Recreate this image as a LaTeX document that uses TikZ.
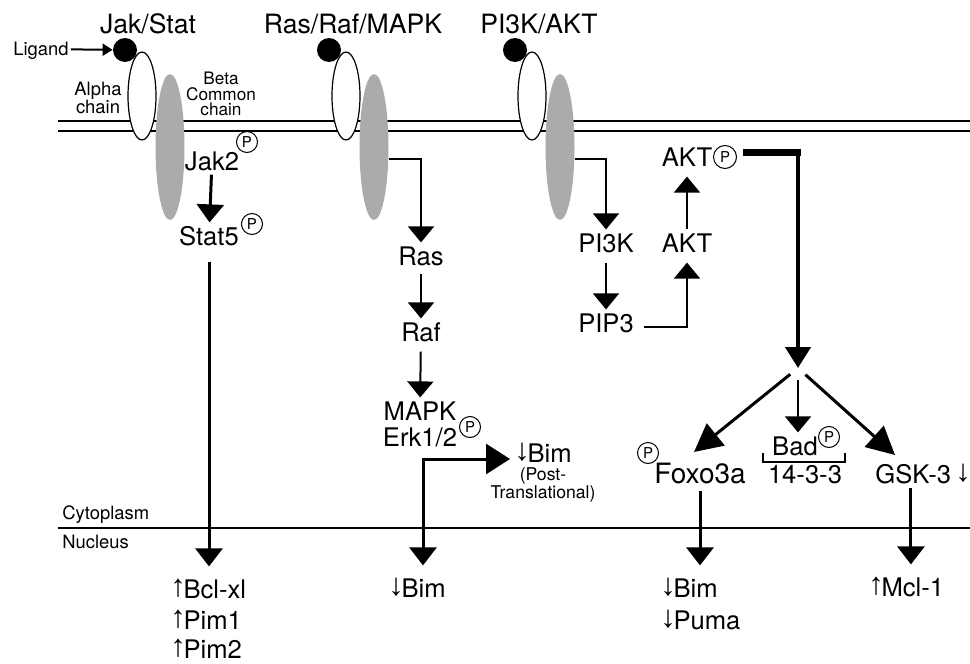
\documentclass[tikz,border=0pt]{standalone}
\usepackage{fontspec}
\setmainfont{TeX Gyre Heros}
\newfontfamily\arrowfont{Liberation Sans}
\usetikzlibrary{arrows.meta,shapes.geometric}
\newcommand{\UpArr}{{\arrowfont\fontsize{15.5}{16}\selectfont\raisebox{0.8pt}{↑}}\kern-1.2pt}
\newcommand{\DnArr}{{\arrowfont\fontsize{15.5}{16}\selectfont\raisebox{0.8pt}{↓}}\kern-1.2pt}

\begin{document}
\begin{tikzpicture}[x=0.5pt,y=-0.5pt,
  lbl/.style={font=\fontsize{12.8}{14}\selectfont,inner sep=2pt,text height=9.2pt,text depth=0pt},
  gene/.style={lbl,inner ysep=6.5pt,anchor=west},
  ttl/.style={font=\fontsize{13.3}{15}\selectfont,inner sep=0pt,text height=9.6pt,text depth=0pt},
  small/.style={font=\fontsize{9.2}{9}\selectfont,inner sep=1pt,text height=6.6pt,text depth=0pt},
  note/.style={font=\fontsize{9.2}{9}\selectfont,inner sep=0pt,align=center},
  phos/.style={circle,draw,line width=0.5pt,inner sep=0pt,minimum size=10.5pt,font=\fontsize{7.5}{7.5}\selectfont},
  link/.style={line width=1pt,-{Triangle[width=13pt,length=8pt]}},
  main/.style={line width=1.5pt,-{Triangle[width=13.5pt,length=9pt]}},
  diag/.style={line width=1.5pt,-{Triangle[width=14pt,length=14pt]}},
  alphachain/.style={ellipse,draw,fill=white,line width=0.6pt,minimum width=14pt,minimum height=44pt,inner sep=0pt},
  betachain/.style={ellipse,fill=black!33,minimum width=14.5pt,minimum height=73pt,inner sep=0pt},
  ligandball/.style={circle,fill=black,minimum size=12pt,inner sep=0pt}]
  \useasboundingbox (0,0) rectangle (970,664);
  \draw[line width=1pt] (58,121) -- (970,121);
  \draw[line width=1pt] (58,131) -- (970,131);
  \draw[line width=1pt] (58,528) -- (970,528);
  \foreach \dx/\n in {0/1,204/2,390/3}{
    \node[alphachain] (alpha\n) at (142+\dx,96) {};
    \node[betachain] (beta\n) at (170+\dx,147) {};
    \node[ligandball] (lig\n) at (125+\dx,50) {};
  }
  \node[ttl] (jakstat) at (148,24) {Jak/Stat};
  \node[ttl] (rasraf) at (353,24) {Ras/Raf/MAPK};
  \node[ttl] (pikakt) at (539,24) {PI3K/AKT};
  \node[small,anchor=west] (ligand) at (11,49) {Ligand};
  \draw[line width=1pt,-{Triangle[width=6pt,length=5pt]}] (ligand) -- (lig1);
  \node[note] (alphatxt) at (98,98) {Alpha\\chain};
  \node[note,font=\fontsize{8.6}{7.6}\selectfont] (betatxt) at (221,94) {Beta\\Common\\chain};
  \node[small,anchor=west] (cyto) at (60,513) {Cytoplasm};
  \node[small,anchor=west] (nucleus) at (60,542) {Nucleus};
  % Jak/Stat
  \node[lbl] (jak2) at (212,161) {Jak2};
  \node[phos] (jak2p) at (247,142) {P};
  \node[lbl] (stat5) at (209,236) {Stat5};
  \node[phos] (stat5p) at (252,224) {P};
  \node[gene] (bclxl) at (166,589) {\UpArr Bcl-xl};
  \node[gene] (pim1) at (166,620) {\UpArr Pim1};
  \node[gene] (pim2) at (166,649) {\UpArr Pim2};
  \draw[main] (jak2) -- (stat5);
  \draw[main,shorten <=6pt] (stat5) -- (stat5 |- bclxl.north);
  % Ras/Raf/MAPK
  \node[lbl] (ras) at (421,256) {Ras};
  \node[lbl] (raf) at (421,332) {Raf};
  \node[lbl] (mapk) at (420,411) {MAPK};
  \node[lbl] (erk) at (420,437) {Erk1/2};
  \node[phos] (erkp) at (470,427) {P};
  \node[lbl] (bimpost) at (543,453) {\DnArr Bim};
  \node[note,font=\fontsize{8.8}{6.8}\selectfont] (posttr) at (543,485) {(Post-\\Translational)};
  \node[gene] (bimnuc) at (384,588) {\DnArr Bim};
  \coordinate (erkfork) at (423,459);
  \draw[link] ([yshift=-6pt]beta2.east) -| (ras);
  \draw[link,shorten <=2pt] (ras) -- (raf);
  \draw[link,shorten <=3pt] (raf) -- (mapk);
  \draw[line width=1.5pt,{Triangle[width=13.5pt,length=9pt]}-{Triangle[width=15pt,length=12pt]}]
    (erkfork |- bimnuc.north) -- (erkfork) -- (erkfork -| bimpost.west);
  % PI3K/AKT
  \node[lbl] (pi3k) at (606,243) {PI3K};
  \node[lbl] (pip3) at (606,323) {PIP3};
  \node[lbl] (akt) at (687,243) {AKT};
  \node[lbl] (aktp) at (687,157) {AKT};
  \node[phos,minimum size=11.5pt] (aktpp) at (725,157) {P};
  \draw[link] ([yshift=-6pt]beta3.east) -| (pi3k);
  \draw[link,shorten <=3pt] (pi3k) -- (pip3);
  \draw[link,shorten <=3pt,shorten >=3pt] ([yshift=-2pt]pip3.east) -| (akt);
  \draw[link,shorten >=3pt] (akt) -- (aktp);
  \coordinate (aktturn) at (798,152);
  \coordinate (fork) at (798,368);
  \draw[line width=3.5pt] ([xshift=3pt,yshift=2.5pt]aktpp.east) -- ([xshift=1.5pt]aktturn);
  \draw[line width=2.2pt,-{Triangle[width=12.5pt,length=10.5pt]}] (aktturn) -- (fork);
  % targets of AKT
  \node[lbl,font=\fontsize{14}{15}\selectfont,text height=10pt] (foxo) at (700,473) {Foxo3a};
  \node[phos] (foxop) at (648,453) {P};
  \node[lbl] (bad) at (795,446) {Bad};
  \node[phos] (badp) at (829,437) {P};
  \node[lbl] (ywhaz) at (805,474) {14-3-3};
  \node[lbl,anchor=west] (gsk) at (871,474) {GSK-3\,\DnArr};
  \draw[line width=0.6pt] (763,453) -- (763,462) -- (845,462) -- (845,453);
  \node[gene] (bimfox) at (656,588) {\DnArr Bim};
  \node[gene] (puma) at (656,620) {\DnArr Puma};
  \node[gene] (mcl) at (864,587) {\UpArr Mcl-1};
  \coordinate (foxoin) at (694,452);
  \coordinate (gskin) at (895,455);
  \draw[diag,shorten <=5pt] (fork) -- (foxoin);
  \draw[diag,shorten <=5pt] (fork) -- (gskin);
  \draw[link,shorten <=6pt] (fork) -- (fork |- bad.north);
  \draw[main,shorten <=2pt] (foxo) -- (foxo |- bimfox.north);
  \draw[main] ([xshift=-5.5pt]gsk.south) -- ([xshift=-5.5pt]gsk.south |- mcl.north);
\end{tikzpicture}
\end{document}
